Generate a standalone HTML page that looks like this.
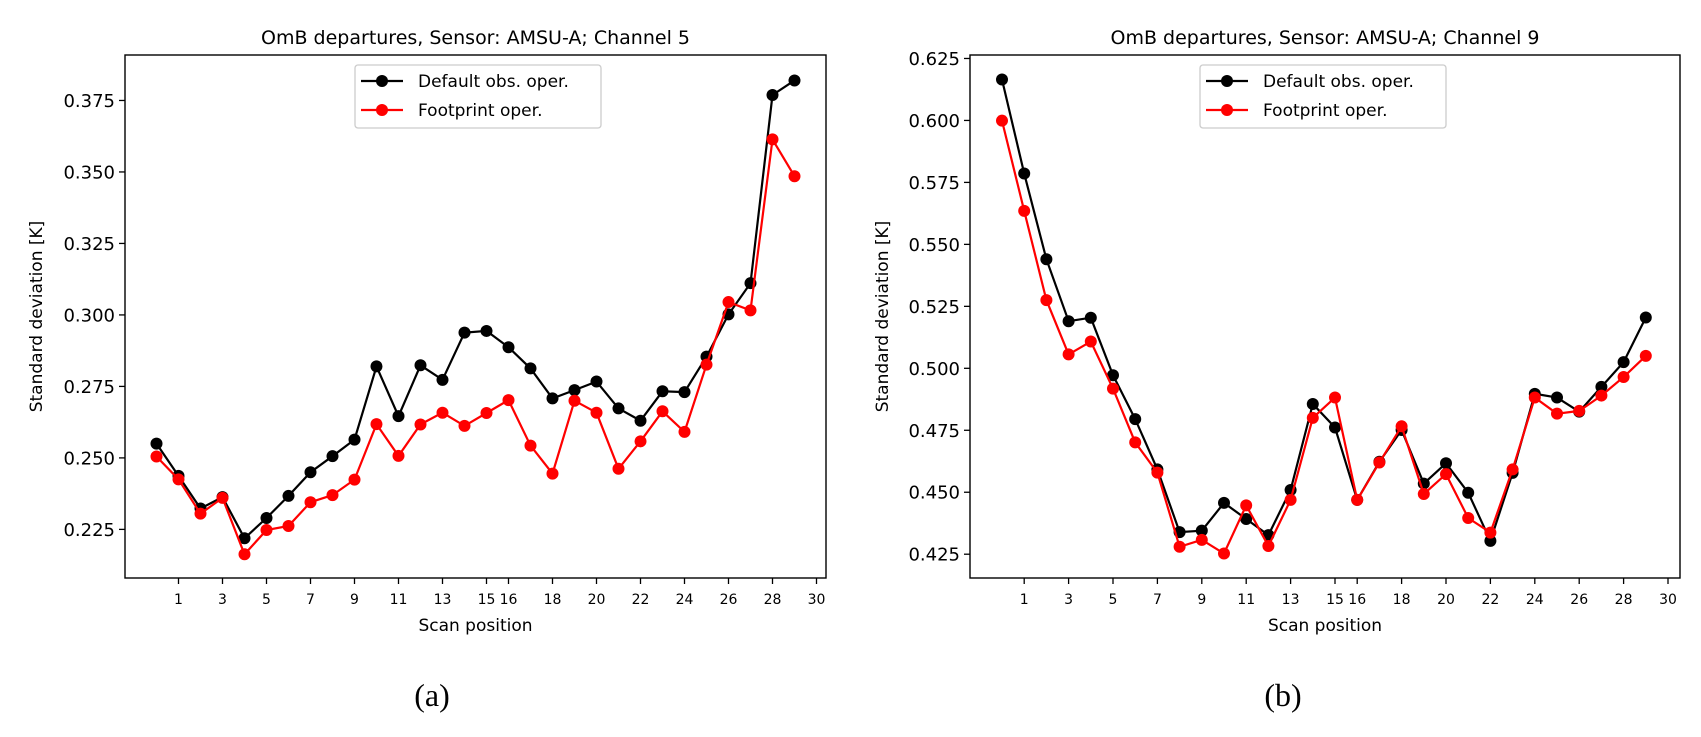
<!DOCTYPE html>
<html><head><meta charset="utf-8"><style>
html,body{margin:0;padding:0;background:#fff}
svg{display:block;font-family:"DejaVu Sans","Liberation Sans",sans-serif}
</style></head><body>
<svg id="fig" width="1701" height="737" viewBox="0 0 1701 737"></svg>
<script>
// ---- data ----
const scanPositions = [0,1,2,3,4,5,6,7,8,9,10,11,12,13,14,15,16,17,18,19,20,21,22,23,24,25,26,27,28,29];
const xTickLabels = [1,3,5,7,9,11,13,15,16,18,20,22,24,26,28,30];
const ch5Default = [0.255,0.2437,0.2323,0.2363,0.2219,0.229,0.2367,0.245,0.2506,0.2564,0.282,0.2646,0.2824,0.2773,0.2938,0.2944,0.2887,0.2813,0.2708,0.2737,0.2767,0.2673,0.263,0.2733,0.273,0.2854,0.3002,0.3111,0.3769,0.382];
const ch5Footprint = [0.2505,0.2425,0.2305,0.236,0.2163,0.2248,0.2262,0.2345,0.237,0.2424,0.2618,0.2507,0.2617,0.2658,0.2612,0.2657,0.2702,0.2543,0.2445,0.27,0.2658,0.2462,0.2558,0.2663,0.2591,0.2826,0.3045,0.3016,0.3614,0.3485];
const ch5YTicks = [0.225,0.250,0.275,0.300,0.325,0.350,0.375];
const ch9Default = [0.6165,0.5786,0.544,0.519,0.5204,0.4972,0.4795,0.4592,0.4339,0.4345,0.4457,0.4392,0.4327,0.4509,0.4856,0.4761,0.4469,0.4623,0.4751,0.4535,0.4617,0.4498,0.4304,0.4578,0.4897,0.4882,0.4825,0.4925,0.5025,0.5205];
const ch9Footprint = [0.5999,0.5635,0.5275,0.5056,0.5108,0.4918,0.4701,0.4579,0.428,0.4308,0.4253,0.4447,0.4283,0.4469,0.48,0.4882,0.4469,0.462,0.4766,0.4493,0.4573,0.4396,0.4337,0.4592,0.4882,0.4817,0.4828,0.489,0.4965,0.505];
const ch9YTicks = [0.425,0.450,0.475,0.500,0.525,0.550,0.575,0.600,0.625];

const NS="http://www.w3.org/2000/svg";
const svg=document.getElementById('fig');
function mk(tag,attrs,parent){const e=document.createElementNS(NS,tag);for(const k in attrs)e.setAttribute(k,attrs[k]);(parent||svg).appendChild(e);return e;}

function panel(cfg){
  const g=mk('g',{});
  
  
  const L=cfg.left,R=cfg.right,T=55,B=578;
  const xs=i=>cfg.x0+cfg.dx*i;
  const ys=v=>T+(cfg.ymax-v)/(cfg.ymax-cfg.ymin)*(B-T);
  // title
  const t=mk('text',{x:(L+R)/2,y:44,'text-anchor':'middle','font-size':19,fill:'#000'},g);
  t.textContent=cfg.title;
  
  
  // y ticks
  cfg.yticks.forEach(v=>{
    const y=ys(v);
    mk('line',{x1:L-6,x2:L,y1:y,y2:y,stroke:'#000','stroke-width':1.3},g);
    const tx=mk('text',{x:L-10,y:y+6.5,'text-anchor':'end','font-size':18,fill:'#000'},g);
    tx.textContent=v.toFixed(3);
    
    
  });
  // x ticks
  xTickLabels.forEach(v=>{
    const x=xs(v);
    mk('line',{x1:x,x2:x,y1:B,y2:B+6,stroke:'#000','stroke-width':1.3},g);
    const tx=mk('text',{x:x,y:B+26,'text-anchor':'middle','font-size':14,fill:'#000'},g);
    tx.textContent=v;
    
    
  });
  const xl=mk('text',{x:(L+R)/2,y:631,'text-anchor':'middle','font-size':17,fill:'#000'},g);
  xl.textContent='Scan position';
  
  
  const yl=mk('text',{x:0,y:0,'text-anchor':'middle','font-size':17,fill:'#000',transform:`translate(${cfg.ylx},${(T+B)/2}) rotate(-90)`},g);
  yl.textContent='Standard deviation [K]';
  
  
  // series
  [[cfg.def,'#000','default-series'],[cfg.foot,'#f00','footprint-series']].forEach(([arr,col,nm])=>{
    const sg=mk('g',{},g);
    
    
    const pts=arr.map((v,i)=>xs(scanPositions[i]).toFixed(1)+','+ys(v).toFixed(1)).join(' ');
    mk('polyline',{points:pts,fill:'none',stroke:col,'stroke-width':2.2},sg);
    arr.forEach((v,i)=>{
      const c=mk('circle',{cx:xs(scanPositions[i]),cy:ys(v),r:6,fill:col},sg);
      
      
    });
  });
  // frame
  const fr=mk('rect',{x:L,y:T,width:R-L,height:B-T,fill:'none',stroke:'#000','stroke-width':1.4},g);
  
  
  // legend
  const lg=mk('g',{},g);
  
  
  const lx=cfg.legX;
  mk('rect',{x:lx,y:65,width:246,height:63,rx:3,fill:'#fff',stroke:'#ccc','stroke-width':1.3},lg);
  [['Default obs. oper.','#000',81],['Footprint oper.','#f00',110]].forEach(([lab,col,y])=>{
    const e=mk('g',{},lg);
    
    
    mk('line',{x1:lx+6,x2:lx+48,y1:y,y2:y,stroke:col,'stroke-width':2.2},e);
    mk('circle',{cx:lx+27,cy:y,r:6,fill:col},e);
    const tx=mk('text',{x:lx+63,y:y+6,'font-size':17,fill:'#000'},e);
    tx.textContent=lab;
  });
  // caption
  const cap=mk('text',{x:cfg.capX,y:706,'text-anchor':'middle','font-size':32,fill:'#000','font-family':'"Liberation Serif",serif'},g);
  cap.textContent=cfg.cap;
  
  
}

panel({name:'chart-channel-5',left:125,right:826,x0:156.5,dx:22.0,ymin:0.2080,ymax:0.3909,yticks:ch5YTicks,def:ch5Default,foot:ch5Footprint,title:'OmB departures, Sensor: AMSU-A; Channel 5',ylx:42,legX:355,capX:432,cap:'(a)'});
panel({name:'chart-channel-9',left:970,right:1680,x0:1002,dx:22.2,ymin:0.4154,ymax:0.6264,yticks:ch9YTicks,def:ch9Default,foot:ch9Footprint,title:'OmB departures, Sensor: AMSU-A; Channel 9',ylx:888,legX:1200,capX:1283,cap:'(b)'});
</script>
</body></html>
